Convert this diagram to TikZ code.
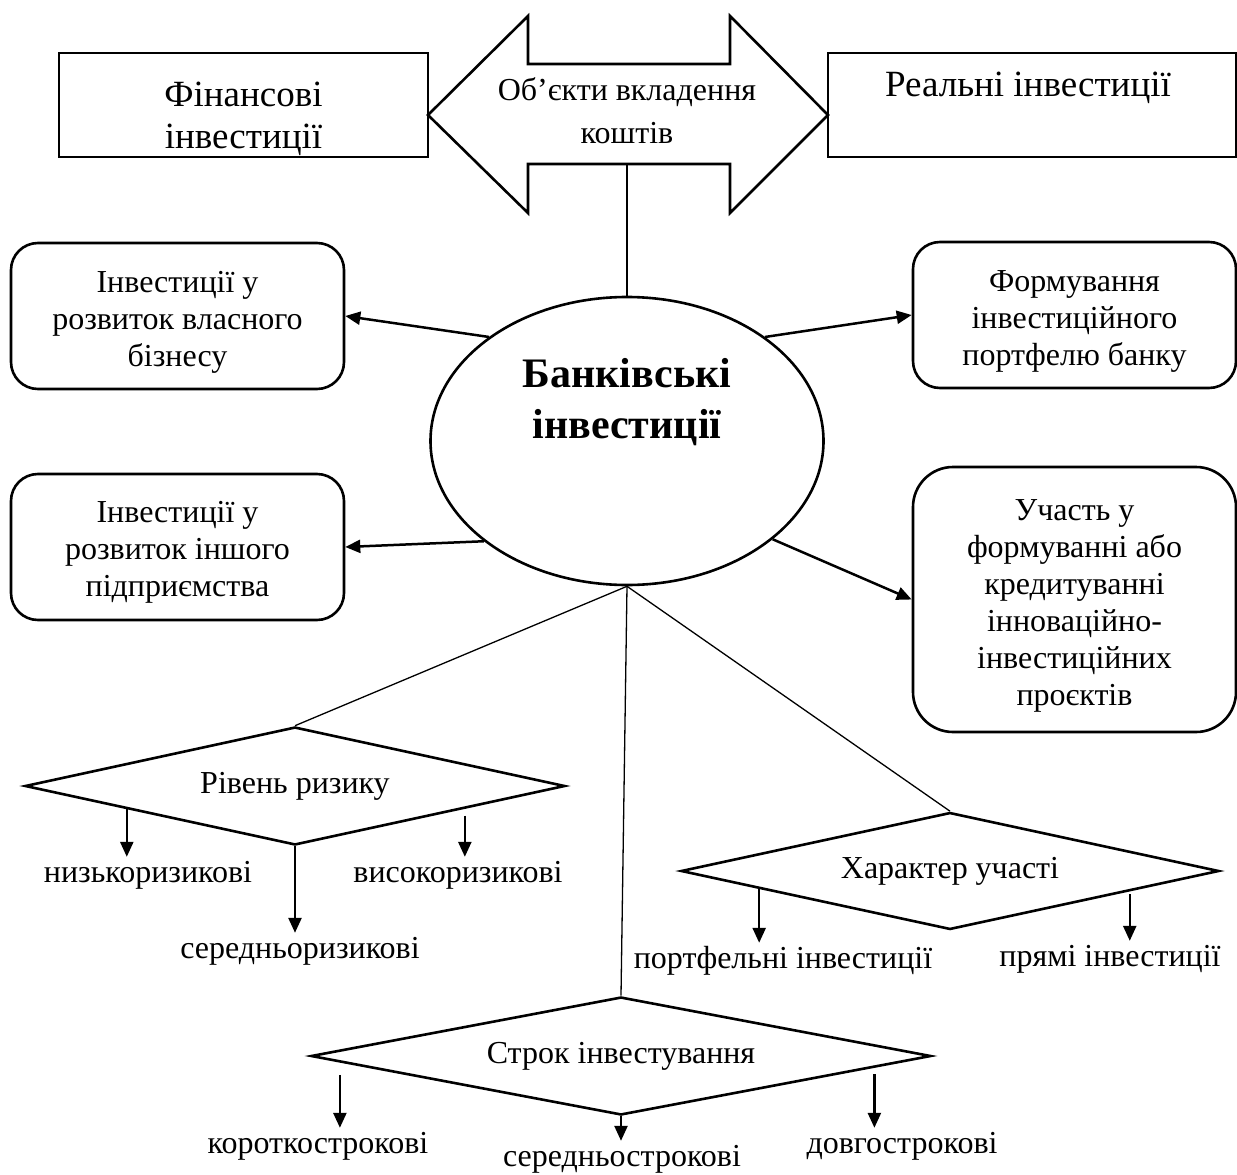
\documentclass[tikz,border=0pt]{standalone}
\usepackage{fontspec}
\setmainfont{Liberation Serif}
\usepackage{tikz}
\usetikzlibrary{calc,positioning,shapes.geometric,arrows.meta}
\newcommand{\midfont}{\fontsize{32}{37}\selectfont}
\newcommand{\topfont}{\fontsize{37}{42}\selectfont}
\newcommand{\objfont}{\fontsize{32}{43}\selectfont}
\newcommand{\headfont}{\fontsize{42}{51}\selectfont\bfseries}
% #1 = height of an invisible strut that pushes the first line down
\newcommand{\firstline}[1]{\rule{0pt}{#1}}
\tikzset{
  plainbox/.style={draw, line width=2.6pt, inner sep=0pt},
  roundbox/.style={draw, line width=2.6pt, rounded corners=27pt,
    align=center, font=\midfont},
  decision/.style={draw, diamond, line width=2.6pt, inner sep=0pt,
    font=\midfont},
  leaf/.style={inner sep=0pt, text height=25pt, anchor=base, font=\midfont},
  arr/.style={line width=2.5pt, -{Triangle[length=15pt,width=13pt]}},
  link/.style={line width=1.3pt}
}

\begin{document}
\begin{tikzpicture}[x=1pt, y=-1pt, line join=miter]
  \useasboundingbox (0,0) rectangle (1237,1175);

  % top row: two kinds of investment and the double arrow
  \node[plainbox, minimum width=369pt, minimum height=104pt, align=center,
    font=\topfont] (fin) at (243.5,105) {\firstline{52pt}Фінансові\\інвестиції};
  \node[plainbox, minimum width=408pt, minimum height=104pt] (real) at (1032,105) {};
  \node[font=\topfont] (realtxt) at (1028,88) {Реальні інвестиції};

  \coordinate (objL) at (428,115);
  \coordinate (objR) at (828,115);
  \coordinate (objbot) at (627,164);
  \draw[line width=2.6pt] (objL) -- (528,16) -- (528,64) -- (730,64) -- (730,16)
    -- (objR) -- (730,213) -- (730,164) -- (528,164) -- (528,213) -- cycle;
  \node[align=center, font=\objfont] (objtxt) at (627,111) {Об’єкти вкладення\\коштів};

  % centre
  \node[draw, ellipse, line width=2.6pt, minimum width=393pt,
    minimum height=288pt] (bank) at (627,441) {};
  \node[align=center, font=\headfont] (banktxt) at (627,402) {Банківські\\інвестиції};
  \draw[link] (objbot) -- (bank.north);

  % side boxes
  \node[roundbox, minimum width=333pt, minimum height=146pt] (own) at (177.5,316)
    {\firstline{34pt}Інвестиції у\\розвиток власного\\бізнесу};
  \node[roundbox, minimum width=333pt, minimum height=146pt] (other) at (177.5,547)
    {\firstline{32pt}Інвестиції у\\розвиток іншого\\підприємства};
  \node[roundbox, minimum width=323pt, minimum height=146pt] (form) at (1074.5,315)
    {\firstline{33pt}Формування\\інвестиційного\\портфелю банку};
  \node[roundbox, rounded corners=40pt, minimum width=323pt, minimum height=265pt]
    (part) at (1074.5,599.5)
    {\firstline{33pt}Участь у\\формуванні або\\кредитуванні\\інноваційно-\\інвестиційних\\проєктів};

  \draw[arr] (bank.143) -- (own.east);
  \draw[arr] (bank.215) -- (other.east);
  \draw[arr] (bank.37) -- (form.west);
  \draw[arr] (bank.-34) -- (part.west);

  % classification diamonds
  \node[decision, aspect=4.6, minimum width=540pt, minimum height=118pt]
    (risk) at (295,786) {Рівень ризику};
  \node[decision, aspect=4.6, minimum width=538pt, minimum height=117pt]
    (kind) at (950,871) {Характер участі};
  \node[decision, aspect=5.2, minimum width=620pt, minimum height=118pt]
    (term) at (621,1056) {Строк інвестування};

  \draw[link] (bank.south) -- (risk.north);
  \draw[link] (bank.south) -- (kind.north);
  \draw[link] (bank.south) -- (term.north);

  % leaves
  \node[leaf] (lowrisk) at (148,882) {низькоризикові};
  \node[leaf] (hirisk) at (458,882) {високоризикові};
  \node[leaf] (midrisk) at (300,958) {середньоризикові};
  \node[leaf] (portf) at (783,968) {портфельні інвестиції};
  \node[leaf] (direct) at (1110,966) {прямі інвестиції};
  \node[leaf] (shortterm) at (318,1153) {короткострокові};
  \node[leaf] (midterm) at (622,1166) {середньострокові};
  \node[leaf] (longterm) at (902,1153) {довгострокові};

  \coordinate (rl) at ($(risk.west)!0.38!(risk.south)$);
  \coordinate (rr) at ($(risk.east)!0.374!(risk.south)+(0,7)$);
  \coordinate (kl) at ($(kind.west)!0.294!(kind.south)$);
  \coordinate (kr) at ($(kind.east)!0.335!(kind.south)+(0,3)$);
  \coordinate (tl) at ($(term.west)!0.097!(term.south)+(0,13)$);
  \coordinate (tr) at ($(term.east)!0.186!(term.south)+(0,7)$);

  \draw[arr] (rl) -- (rl |- lowrisk.north);
  \draw[arr] (risk.south) -- (risk.south |- midrisk.north);
  \draw[arr] (rr) -- (rr |- hirisk.north);
  \draw[arr] (kl) -- (kl |- portf.north);
  \draw[arr] (kr) -- (kr |- direct.north);
  \draw[arr] (tl) -- (tl |- shortterm.north);
  \draw[arr] (term.south) -- (term.south |- midterm.north);
  \draw[arr] (tr) -- (tr |- longterm.north);
\end{tikzpicture}
\end{document}
